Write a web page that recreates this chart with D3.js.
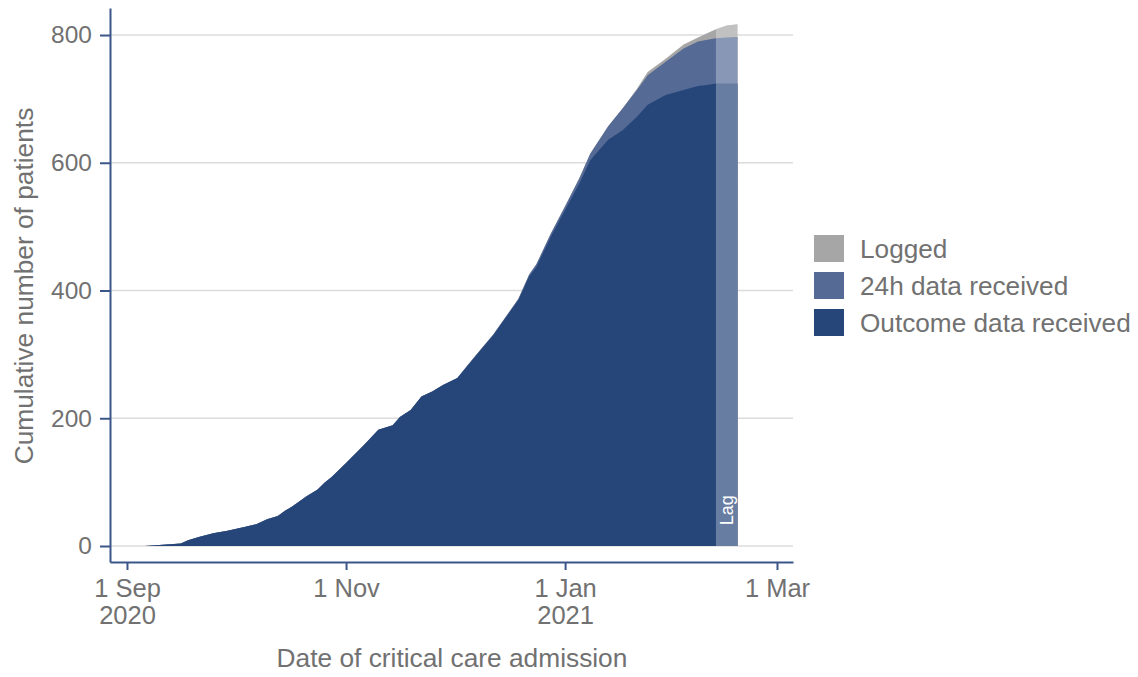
<!DOCTYPE html>
<html><head><meta charset="utf-8">
<script src="https://cdn.jsdelivr.net/npm/d3@7"></script>
<style>
body{margin:0;background:#fff}
text{font-family:"Liberation Sans",Arial,Helvetica,sans-serif}
</style>
</head><body>
<svg id="chart" width="1138" height="677"></svg>
<script>
// ---- data ----
const dates = ["2020-09-06","2020-09-11","2020-09-16","2020-09-18","2020-09-21","2020-09-25","2020-09-29",
  "2020-10-04","2020-10-07","2020-10-10","2020-10-13","2020-10-15","2020-10-17","2020-10-21","2020-10-24","2020-10-26","2020-10-28",
  "2020-11-01","2020-11-06","2020-11-10","2020-11-14","2020-11-16","2020-11-19","2020-11-22","2020-11-25","2020-11-28",
  "2020-12-02","2020-12-05","2020-12-09","2020-12-12","2020-12-15","2020-12-19","2020-12-22","2020-12-24","2020-12-28",
  "2021-01-01","2021-01-05","2021-01-08","2021-01-13","2021-01-17","2021-01-21","2021-01-24","2021-01-29",
  "2021-02-03","2021-02-07","2021-02-10","2021-02-12","2021-02-15","2021-02-18"];
const outcomeReceived = [0,2,4,9,14,20,24,
  30,34,42,47,55,62,78,88,99,108,
  130,158,182,189,202,213,234,242,252,
  263,283,310,330,354,385,422,437,484,
  526,568,604,636,651,672,691,706,
  714,720,722,724,724,724];
const received24h = [0,2,4,9,14,20,24,
  30,34,42,47,55,62,78,88,99,108,
  130,158,182,189,202,213,234,242,252,
  263,284,311,331,355,387,425,441,489,
  532,576,614,657,685,714,737,758,
  779,790,793,795,796,797];
const logged = [0,2,4,9,14,20,24,
  30,34,42,47,55,62,78,88,99,108,
  130,158,182,189,202,213,234,242,252,
  263,284,311,331,355,387,425,441,489,
  532,576,614,657,685,716,742,763,
  785,796,804,809,815,817];
const seriesNames = ["Logged","24h data received","Outcome data received"];
const seriesColors = ["#a6a6a6","#556a95","#26467a"];
const lagStart = "2021-02-12";
const lagLabel = "Lag";
const yTicks = [0,200,400,600,800];
const xTickDates = ["2020-09-01","2020-11-01","2021-01-01","2021-03-01"];
const xTickLabels = [["1 Sep","2020"],["1 Nov"],["1 Jan","2021"],["1 Mar"]];
const xTitle = "Date of critical care admission";
const yTitle = "Cumulative number of patients";

(function(){
const parse = d3.utcParse("%Y-%m-%d");
const rows = dates.map((d,i)=>({date:parse(d), outcome:outcomeReceived[i], h24:received24h[i], logged:logged[i]}));

const svg = d3.select("#chart");
const axisColor = "#3b5789";
const textColor = "#717171";
const gridColor = "#dcdcdc";
const DAY = 864e5;

const pLeft = 110, pRight = 793, pTop = 8, pBottom = 562;
const x = d3.scaleUtc()
  .domain([new Date(parse("2020-09-01").getTime() - 4.73*DAY), new Date(parse("2021-03-01").getTime() + 4.46*DAY)])
  .range([pLeft, pRight]);
const y = d3.scaleLinear().domain([-25.05, 842.3]).range([pBottom, pTop]);

// gridlines
svg.append("g").selectAll("line").data(yTicks).join("line")
  .attr("x1", pLeft).attr("x2", pRight)
  .attr("y1", d=>y(d)).attr("y2", d=>y(d))
  .attr("stroke", gridColor).attr("stroke-width", 1.6);

// areas
const keys = ["logged","h24","outcome"];
keys.forEach((k,i)=>{
  const area = d3.area().x(d=>x(d.date)).y0(y(0)).y1(d=>y(d[k]));
  svg.append("path").datum(rows).attr("d", area).attr("fill", seriesColors[i]);
});

// lag overlay
const lagRows = rows.filter(d=>d.date >= parse(lagStart));
const lagArea = d3.area().x(d=>x(d.date)).y0(y(0)).y1(d=>y(d.logged));
svg.append("path").datum(lagRows).attr("d", lagArea).attr("fill", "#ffffff").attr("fill-opacity", 0.3);
const lagMid = x(new Date((parse(lagStart).getTime() + lagRows[lagRows.length-1].date.getTime())/2));
svg.append("text")
  .attr("transform", `translate(${lagMid+6},${y(56)}) rotate(-90)`)
  .attr("text-anchor","middle")
  .attr("fill","#ffffff").attr("font-size", 18)
  .text(lagLabel);

// axes
const xAxis = d3.axisBottom(x).tickValues(xTickDates.map(parse)).tickSize(8).tickSizeOuter(0).tickFormat("");
const gx = svg.append("g").attr("transform", `translate(0,${pBottom})`).call(xAxis);
gx.selectAll(".domain,.tick line").attr("stroke", axisColor).attr("stroke-width", 2);
gx.selectAll(".tick").each(function(d,i){
  const g = d3.select(this);
  xTickLabels[i].forEach((s,j)=>{
    g.append("text").attr("x",0).attr("y", 35 + j*26.5)
      .attr("fill", textColor).attr("font-size", 25.5).attr("text-anchor","middle").text(s);
  });
});

const yAxis = d3.axisLeft(y).tickValues(yTicks).tickSize(10).tickSizeOuter(0).tickPadding(8);
const gy = svg.append("g").attr("transform", `translate(${pLeft},0)`).call(yAxis);
gy.selectAll(".domain,.tick line").attr("stroke", axisColor).attr("stroke-width", 2);
gy.selectAll(".tick text").attr("fill", textColor).attr("font-size", 24.5)
  .attr("font-family", '"Liberation Sans",Arial,sans-serif');

// titles
svg.append("text").attr("x", 452).attr("y", 667).attr("text-anchor","middle")
  .attr("fill", textColor).attr("font-size", 26.3).text(xTitle);
svg.append("text").attr("transform","translate(33,286) rotate(-90)").attr("text-anchor","middle")
  .attr("fill", textColor).attr("font-size", 26.3).text(yTitle);

// legend
const lg = svg.append("g").attr("transform","translate(814,235)");
seriesNames.forEach((n,i)=>{
  lg.append("rect").attr("x",0).attr("y", i*37).attr("width",30).attr("height",27).attr("fill", seriesColors[i]);
  lg.append("text").attr("x",46).attr("y", i*37 + 22.5).attr("fill", textColor).attr("font-size", 26.2).text(n);
});
})();
</script>
</body></html>
